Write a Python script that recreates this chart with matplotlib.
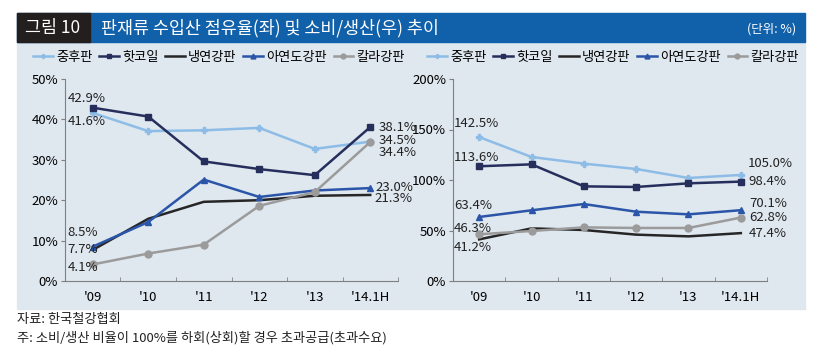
import matplotlib.pyplot as plt
from matplotlib.patches import Rectangle

plt.rcParams['font.family'] = ['Noto Sans CJK KR', 'DejaVu Sans']

years = ["'09", "'10", "'11", "'12", "'13", "'14.1H"]
series_names = ['중후판', '핫코일', '냉연강판', '아연도강판', '칼라강판']

# left: import share (%)
share_plate = [41.6, 37.1, 37.3, 37.9, 32.7, 34.5]
share_hot = [42.9, 40.7, 29.6, 27.7, 26.2, 38.1]
share_cold = [7.7, 15.4, 19.6, 20.0, 21.1, 21.3]
share_galv = [8.5, 14.6, 25.1, 20.8, 22.4, 23.0]
share_color = [4.1, 6.8, 9.0, 18.6, 22.0, 34.4]

# right: consumption / production (%)
ratio_plate = [142.5, 122.8, 116.2, 110.9, 102.0, 105.0]
ratio_hot = [113.6, 115.5, 93.7, 93.1, 96.7, 98.4]
ratio_cold = [41.2, 52.1, 50.5, 45.9, 44.2, 47.4]
ratio_galv = [63.4, 70.0, 76.2, 68.6, 66.0, 70.1]
ratio_color = [46.3, 49.5, 53.1, 52.5, 52.5, 62.8]

colors = ['#8dbde6', '#262f5c', '#262626', '#2b55a8', '#9b9b9b']
markers = ['P', 's', None, '^', 'o']
msizes = [4, 5, 0, 5, 5]

W, H = 820, 360
fig = plt.figure(figsize=(W / 100, H / 100), dpi=100)


def box(x0, y0, x1, y1):
    # pixel box (top-left origin) -> figure fraction
    return [x0 / W, 1 - y1 / H, (x1 - x0) / W, (y1 - y0) / H]


def rect(x0, y0, x1, y1, color):
    b = box(x0, y0, x1, y1)
    fig.patches.append(Rectangle((b[0], b[1]), b[2], b[3], transform=fig.transFigure,
                                 color=color, zorder=-10))


# background panel and title bar
rect(17, 42, 805, 309, '#dfe7ef')
rect(17, 13, 805, 42, '#1060aa')
rect(17, 13, 90, 42, '#231f1e')
fig.text(53 / W, 1 - 28 / H, '그림 10', color='white', fontsize=12.5, ha='center', va='center')
fig.text(101 / W, 1 - 28 / H, '판재류 수입산 점유율(좌) 및 소비/생산(우) 추이', color='white',
         fontsize=12.5, ha='left', va='center')
fig.text(796 / W, 1 - 29 / H, '(단위: %)', color='white', fontsize=9, ha='right', va='center')

fig.text(17 / W, 1 - 320 / H, '자료: 한국철강협회', fontsize=9.5, ha='left', va='center', color='#222222')
fig.text(17 / W, 1 - 338 / H, '주: 소비/생산 비율이 100%를 하회(상회)할 경우 초과공급(초과수요)',
         fontsize=9.5, ha='left', va='center', color='#222222')


def draw(ax, data, ymax, step, labels):
    x = list(range(len(years)))
    handles = []
    for vals, c, m, ms, name in zip(data, colors, markers, msizes, series_names):
        h, = ax.plot(x, vals, color=c, lw=1.8, marker=m, ms=ms, label=name)
        handles.append(h)
    ax.set_xlim(-0.5, len(years) - 0.5)
    ax.set_ylim(0, ymax)
    ax.set_yticks(range(0, ymax + 1, step))
    ax.set_yticklabels([f'{v}%' for v in range(0, ymax + 1, step)])
    ax.set_xticks(x)
    ax.set_xticklabels(years)
    ax.set_xticks([i - 0.5 for i in range(len(years) + 1)], minor=True)
    ax.tick_params(axis='x', which='major', length=0, pad=7, labelsize=9.5)
    ax.tick_params(axis='x', which='minor', length=3, direction='in', color='#808080')
    ax.tick_params(axis='y', length=3, color='#808080', labelsize=9.5, pad=2)
    ax.set_facecolor('none')
    for s in ['top', 'right']:
        ax.spines[s].set_visible(False)
    for s in ['left', 'bottom']:
        ax.spines[s].set_color('#808080')
        ax.spines[s].set_linewidth(0.8)
    for si, idx, txt, dx, dy in labels:
        ax.annotate(txt, xy=(idx, data[si][idx]), xytext=(dx, dy), textcoords='offset pixels',
                    ha='left', va='center', fontsize=9.5, color='#222222')
    return handles


ax1 = fig.add_axes(box(65, 79, 398, 281))
left_data = [share_plate, share_hot, share_cold, share_galv, share_color]
left_labels = [
    (1, 0, '42.9%', -25, 9), (0, 0, '41.6%', -25, -9),
    (3, 0, '8.5%', -25, 14), (2, 0, '7.7%', -25, 0), (4, 0, '4.1%', -25, -3),
    (1, 5, '38.1%', 8, 0), (0, 5, '34.5%', 8, 1), (4, 5, '34.4%', 8, -10),
    (3, 5, '23.0%', 5, 1), (2, 5, '21.3%', 4, -4),
]
h1 = draw(ax1, left_data, 50, 10, left_labels)

ax2 = fig.add_axes(box(453, 79, 767, 281))
right_data = [ratio_plate, ratio_hot, ratio_cold, ratio_galv, ratio_color]
right_labels = [
    (0, 0, '142.5%', -25, 14), (1, 0, '113.6%', -25, 9),
    (3, 0, '63.4%', -25, 11), (4, 0, '46.3%', -25, 6), (2, 0, '41.2%', -25, -8),
    (0, 5, '105.0%', 7, 11), (1, 5, '98.4%', 8, 0),
    (3, 5, '70.1%', 8, 7), (4, 5, '62.8%', 8, 0), (2, 5, '47.4%', 8, 0),
]
h2 = draw(ax2, right_data, 200, 50, right_labels)

for hs, cx in [(h1, 219), (h2, 613)]:
    fig.legend(handles=hs, loc='center', bbox_to_anchor=(cx / W, 1 - 57 / H), ncol=5,
               frameon=False, fontsize=9.5, handlelength=1.5, handletextpad=0.25,
               columnspacing=0.5, markerscale=0.7)

fig.savefig('out.png', dpi=100)
